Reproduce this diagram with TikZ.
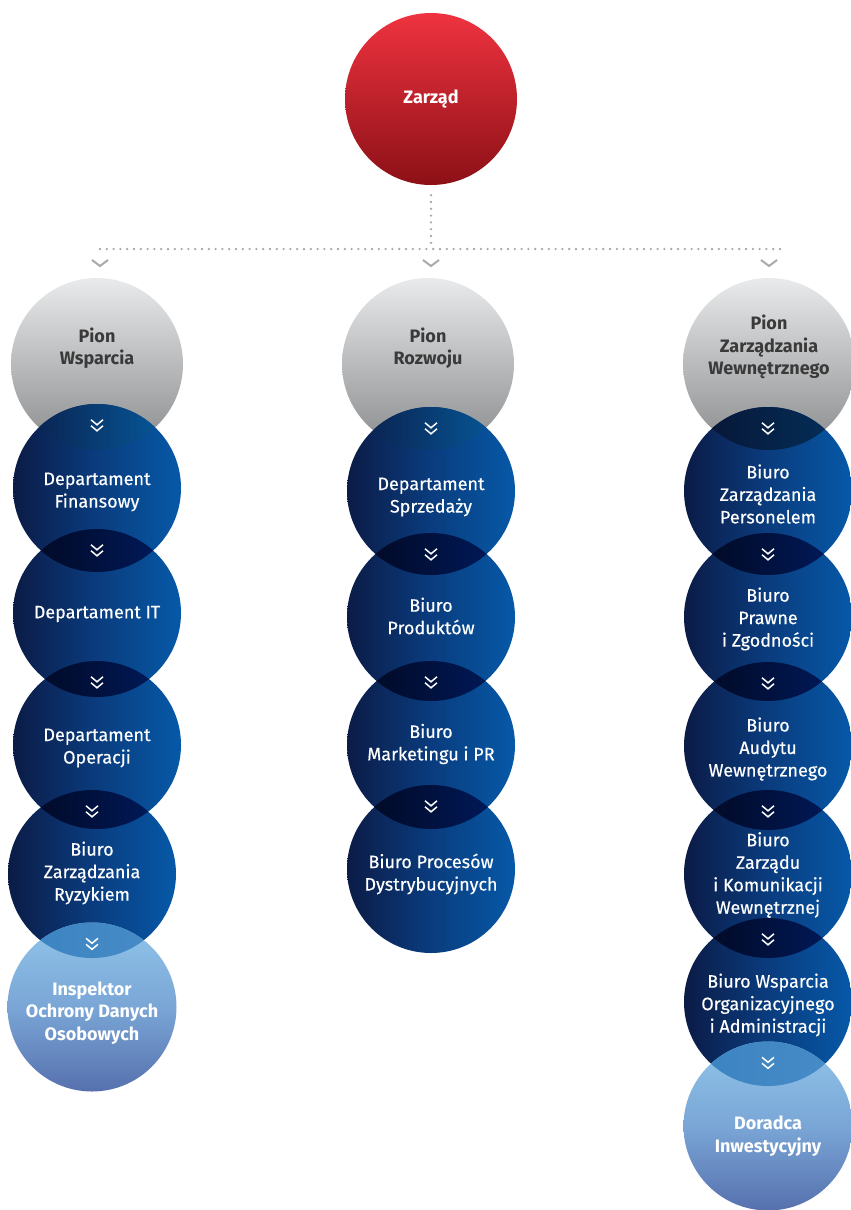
\documentclass[tikz,border=0pt]{standalone}
\usepackage{fontspec}
\setmainfont{Fira Sans}
\newfontfamily\medfont{Fira Sans}[FakeBold=0.35]
\usetikzlibrary{shapes,positioning}
\definecolor{redT}{HTML}{EF3340}
\definecolor{redB}{HTML}{8C1016}
\definecolor{grayT}{HTML}{E9EAEB}
\definecolor{grayB}{HTML}{8A8B8D}
\definecolor{blueL}{HTML}{0B1B46}
\definecolor{blueM}{HTML}{0A3C7E}
\definecolor{blueR}{HTML}{0659A8}
\definecolor{lensL}{HTML}{02071C}
\definecolor{lensR}{HTML}{001C62}
\definecolor{lightT}{HTML}{90C5EA}
\definecolor{lightM}{HTML}{7AA6D6}
\definecolor{lightB}{HTML}{5670AE}
\definecolor{pionText}{HTML}{3A3A3A}
\definecolor{dotGray}{HTML}{A7A9AC}
\newcommand{\bigsize}{172pt}
\newcommand{\ballsize}{168pt}

\tikzset{
  ball/.style={circle, inner sep=0pt, minimum size=\ballsize},
  redball/.style={ball, minimum size=\bigsize, top color=redT, bottom color=redB},
  grayball/.style={ball, minimum size=\bigsize, top color=grayT, bottom color=grayB},
  blueball/.style={ball, left color=blueL, right color=blueR, middle color=blueM},
  lightball/.style={ball, minimum size=169pt, top color=lightT, bottom color=lightB, middle color=lightM},
  lbl/.style={align=center, text=white, font=\medfont\fontsize{18}{22.5}\selectfont},
  lblb/.style={lbl, font=\bfseries\fontsize{18}{22.5}\selectfont},
  plbl/.style={lblb, text=pionText},
  dots/.style={draw=dotGray, line width=2.6pt, line cap=round, dash pattern=on 0pt off 6.8pt},
  dchev/.pic={\draw[white, line width=1.5pt] (-6,-6) -- (0,-1) -- (6,-6) (-6,0) -- (0,5) -- (6,0);},
  gchev/.pic={\draw[dotGray, line width=2pt] (-8,-3) -- (0,3) -- (8,-3);}
}

\begin{document}
\begin{tikzpicture}[x=1pt,y=-1pt]
    \useasboundingbox (0,0) rectangle (851,1210);
    %\draw[help lines] (0,0) grid (851,1210);
    \node[redball] (zar) at (431,99) {};
    \foreach \n/\x in {pw/97,pr/428,pzw/769}
        \node[grayball] (\n) at (\x,364) {};
    \foreach \n/\x/\y in {fin/97/488,it/97/613,ope/97/745,ryz/92/874,
                          spr/431/491,pro/431/617,mar/431/745,dys/431/869,
                          per/768/491,pra/768/617,aud/768/746,zdu/768/874,wsp/768/1002}
        \node[blueball] (\n) at (\x,\y) {};
    \node[lightball] (iod) at (92,1007) {};
    \node[lightball] (dor) at (768,1126) {};

    % lenses
    \foreach \a/\b in {fin/it,it/ope,ope/ryz,spr/pro,pro/mar,mar/dys,
                       per/pra,pra/aud,aud/zdu,zdu/wsp}{
        \begin{scope}
            \clip (\a.center) circle[radius=84pt];
            \shade[left color=lensL, right color=lensR] (\b.center) circle[radius=84pt];
        \end{scope}
    }
    \foreach \a/\b in {pw/fin,pr/spr}{
        \begin{scope}
            \clip (\a.center) circle[radius=86pt];
            \shade[left color=blueL, right color=blueR!85!teal] (\b.center) circle[radius=84pt];
        \end{scope}
    }
    \begin{scope}
        \clip (pzw.center) circle[radius=86pt];
        \shade[left color=blueL!70!black, right color=blueR!55!black] (per.center) circle[radius=84pt];
    \end{scope}
    \foreach \a/\b in {ryz/iod,wsp/dor}{
        \begin{scope}
            \clip (\a.center) circle[radius=84pt];
            \shade[left color=blueR!62!lightT, right color=blueR!52!lightT] (\b.center) circle[radius=84.5pt];
        \end{scope}
    }

    % connectors
    \coordinate (hub) at (431,249);
    \coordinate (hl) at (100,249);
    \coordinate (hr) at (780,249);
    \draw[dots] ([yshift=-10pt]zar.south) -- (hub);
    \draw[dots] (hl) -- (hr);
    \foreach \x in {100,431,769}
        \pic at (\x,263) {gchev};
    \foreach \n in {fin,it,ope,ryz,iod,spr,pro,mar,dys,per,pra,aud,zdu,wsp,dor}
        \pic at ([yshift=-22pt]\n.north) {dchev};

    % labels
    \node[lblb] (zarT) at (zar.center) {Zarząd};
    \node[plbl] (pwT) at ([yshift=16pt]pw.center) {Pion\\Wsparcia};
    \node[plbl] (prT) at ([yshift=16pt]pr.center) {Pion\\Rozwoju};
    \node[plbl] (pzwT) at ([yshift=17pt]pzw.center) {Pion\\Zarządzania\\Wewnętrznego};
    \node[lbl] (finT) at ([yshift=-4pt]fin.center) {Departament\\Finansowy};
    \node[lbl] (itT) at ([yshift=-1pt]it.center) {Departament IT};
    \node[lbl] (opeT) at ([yshift=-3pt]ope.center) {Departament\\Operacji};
    \node[lbl] (ryzT) at ([yshift=1pt]ryz.center) {Biuro\\Zarządzania\\Ryzykiem};
    \node[lblb] (iodT) at ([yshift=-6pt]iod.center) {Inspektor\\Ochrony Danych\\Osobowych};
    \node[lbl] (sprT) at ([yshift=-6pt]spr.center) {Departament\\Sprzedaży};
    \node[lbl] (proT) at ([yshift=1pt]pro.center) {Biuro\\Produktów};
    \node[lbl] (marT) at ([yshift=1pt]mar.center) {Biuro\\Marketingu i PR};
    \node[lbl] (dysT) at ([yshift=-5pt]dys.center) {Biuro Procesów\\Dystrybucyjnych};
    \node[lbl] (perT) at ([yshift=-3pt]per.center) {Biuro\\Zarządzania\\Personelem};
    \node[lbl] (praT) at ([yshift=-2pt]pra.center) {Biuro\\Prawne\\i Zgodności};
    \node[lbl] (audT) at ([yshift=-3pt]aud.center) {Biuro\\Audytu\\Wewnętrznego};
    \node[lbl] (zduT) at ([yshift=-1pt]zdu.center) {Biuro\\Zarządu\\i Komunikacji\\Wewnętrznej};
    \node[lbl] (wspT) at ([yshift=-3pt]wsp.center) {Biuro Wsparcia\\Organizacyjnego\\i Administracji};
    \node[lblb] (dorT) at ([yshift=-10pt]dor.center) {Doradca\\Inwestycyjny};
\end{tikzpicture}
\end{document}
